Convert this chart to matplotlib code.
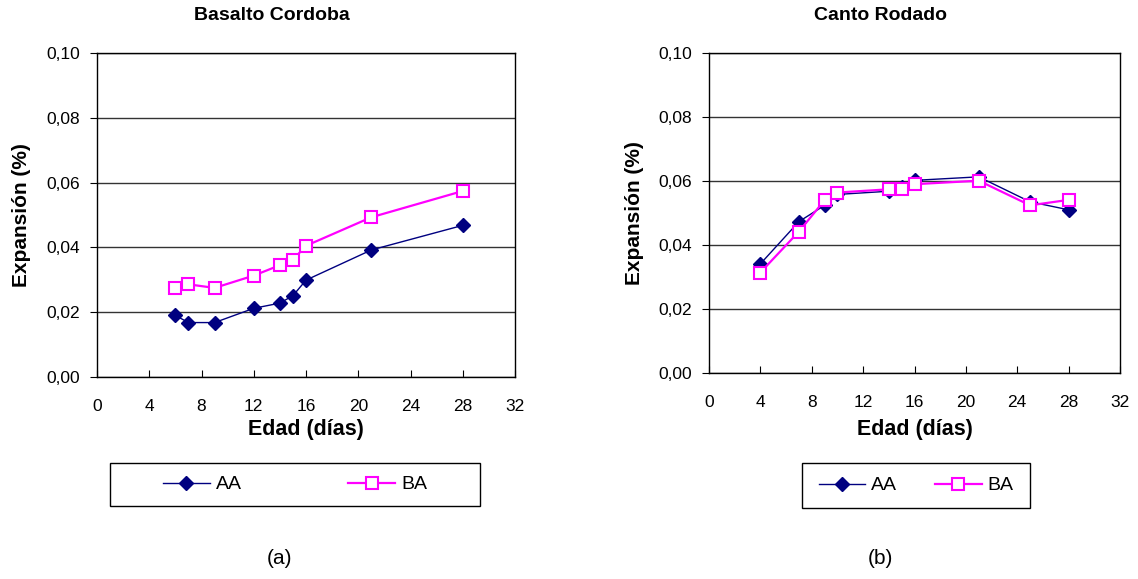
import matplotlib
matplotlib.use('Agg')
import matplotlib.pyplot as plt
from matplotlib.patches import Rectangle
from matplotlib.ticker import FuncFormatter

plt.rcParams['font.family'] = ['Liberation Sans', 'DejaVu Sans']

# expansion (%) vs age (days)
bc_days = [6, 7, 9, 12, 14, 15, 16, 21, 28]
bc_aa = [0.0190, 0.0168, 0.0168, 0.0212, 0.0228, 0.0251, 0.0299, 0.0392, 0.0468]
bc_ba = [0.0275, 0.0286, 0.0275, 0.0313, 0.0345, 0.0362, 0.0405, 0.0493, 0.0574]

cr_days = [4, 7, 9, 10, 14, 15, 16, 21, 25, 28]
cr_aa = [0.0341, 0.0473, 0.0524, 0.0558, 0.0568, 0.0580, 0.0602, 0.0613, 0.0535, 0.0510]
cr_ba = [0.0314, 0.0442, 0.0540, 0.0564, 0.0574, 0.0574, 0.0590, 0.0601, 0.0524, 0.0541]

titles = ['Basalto Cordoba', 'Canto Rodado']
panel_tags = ['(a)', '(b)']

W, H = 1138, 579
fig = plt.figure(figsize=(W / 100, H / 100), dpi=100)


def fx(px):
    return px / W


def fy(py):
    return 1 - py / H


comma = FuncFormatter(lambda v, pos: f'{v:.2f}'.replace('.', ','))

panels = [
    dict(box=(97, 53, 515, 377), days=bc_days, aa=bc_aa, ba=bc_ba,
         title_x=272, ylab_x=22, leg=(110, 463, 480, 506), colsp=5.5, tag_x=279),
    dict(box=(709, 53, 1120, 373), days=cr_days, aa=cr_aa, ba=cr_ba,
         title_x=880, ylab_x=634, leg=(802, 463, 1030, 508), colsp=1.95, tag_x=880),
]

for p, title, tag in zip(panels, titles, panel_tags):
    l, t, r, b = p['box']
    ax = fig.add_axes([fx(l), fy(b), fx(r - l), fy(t) - fy(b)])
    ax.set_xlim(0, 32)
    ax.set_ylim(0, 0.10)
    ax.set_xticks(range(0, 33, 4))
    ax.set_yticks([0, 0.02, 0.04, 0.06, 0.08, 0.10])
    ax.yaxis.set_major_formatter(comma)
    ax.yaxis.grid(True, color='#333333', lw=1)
    ax.set_axisbelow(True)
    for s in ax.spines.values():
        s.set_color('black')
        s.set_linewidth(1)
    ax.tick_params(axis='y', direction='out', length=5, labelsize=12.5, pad=7)
    ax.tick_params(axis='x', direction='in', length=5, labelsize=12.5, pad=16)

    la, = ax.plot(p['days'], p['aa'], color='#000080', lw=1, marker='D',
                  ms=7, mfc='#000080', mec='#000080', label='AA')
    lb, = ax.plot(p['days'], p['ba'], color='#FF00FF', lw=1.6, marker='s',
                  ms=8, mfc='white', mec='#FF00FF', mew=1.5, label='BA')

    ax.set_ylabel('Expansión (%)', fontsize=15, fontweight='bold', va='center')
    ax.yaxis.set_label_coords((p['ylab_x'] - l) / (r - l), 0.5)
    ax.set_xlabel('Edad (días)', fontsize=15.5, fontweight='bold', va='center')
    ax.xaxis.set_label_coords(0.5, -(430 - b) / (b - t))
    fig.text(fx(p['title_x']), fy(16), title, fontsize=14, fontweight='bold',
             ha='center', va='center')
    fig.text(fx(p['tag_x']), fy(558), tag, fontsize=15, ha='center', va='center')

    # legend box drawn on the figure, entries centred inside it
    x0, y0, x1, y1 = p['leg']
    fig.add_artist(Rectangle((fx(x0), fy(y1)), fx(x1 - x0), fy(y0) - fy(y1),
                             transform=fig.transFigure, fill=False,
                             edgecolor='black', lw=1))
    fig.legend(handles=[la, lb], loc='center', ncol=2,
               bbox_to_anchor=(fx((x0 + x1) / 2), fy((y0 + y1) / 2)),
               fontsize=14, frameon=False, borderaxespad=0, borderpad=0,
               handlelength=2.4, handletextpad=0.3, columnspacing=p['colsp'])

fig.savefig('out.png', dpi=100)
